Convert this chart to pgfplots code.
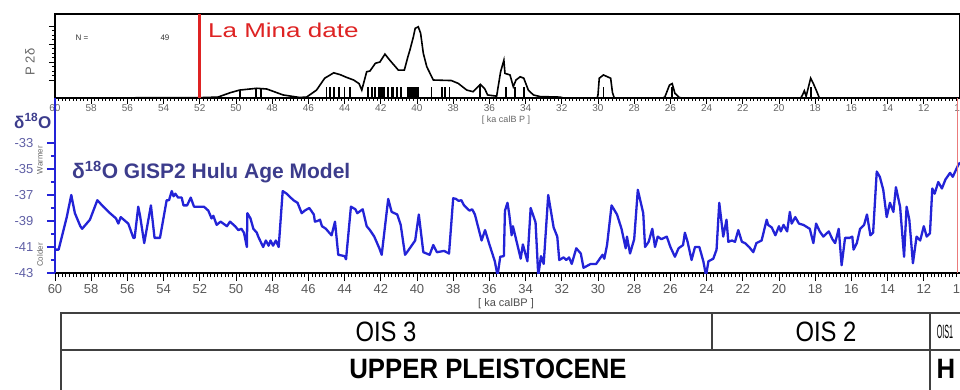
\documentclass[border=0pt]{standalone}
\usepackage{pgfplots}
\pgfplotsset{compat=1.18}
\usepackage{fontspec}
\setmainfont{Liberation Sans}
\usepackage{graphicx}
\definecolor{dblue}{RGB}{35,35,215}
\definecolor{lblue}{RGB}{95,95,165}
\definecolor{tblue}{RGB}{60,60,140}
\definecolor{lared}{RGB}{222,35,35}
\newcommand{\fs}[1]{\fontsize{#1}{#1}\selectfont}
\begin{document}
\begin{tikzpicture}[x=1pt,y=1pt]
\clip (0,0) rectangle (960,389);
% ---------------- top panel: summed probability ----------------
\begin{axis}[
  at={(55pt,291pt)}, anchor=south west,
  scale only axis, width=905pt, height=84pt,
  xmin=10, xmax=60, x dir=reverse,
  ymin=0, ymax=4.67,
  axis line style={line width=1.8pt},
  xtick={60,58,...,10}, minor x tick num=9,
  xtick pos=bottom, ytick pos=left,
  tick align=outside,
  ytick={1,2,3,4}, yticklabels={},
  minor y tick num=3,
  major tick length=6pt, minor tick length=3pt,
  every tick/.style={black, line width=0.9pt},
  x tick label style={font=\fs{10}, text=black!60, yshift=3pt},
  /pgf/number format/assume math mode=true,
  clip=false,
]
\addplot[black, line width=1.6pt, no marks] coordinates {
(60,0) (52,0.02) (51,0.05) (50.3,0.3) (49.8,0.44) (48.85,0.54) (48.3,0.5)
(47.4,0.17) (46.5,0.03) (46.1,0.05) (45.55,0.44) (45.1,1.1) (44.6,1.4)
(44.25,1.3) (43.9,1.15) (43.5,1.0) (43.2,0.8) (43.05,0.44) (42.78,1.46)
(42.6,1.5) (42.3,1.93) (42.05,2.0) (41.77,2.44) (41.5,2.1) (41.03,1.55)
(40.7,1.55) (40.5,2.3) (40.39,2.67) (40.2,3.4) (40.1,3.87) (39.93,3.96)
(39.8,3.6) (39.65,2.48) (39.46,1.74) (39.1,1.0) (38.1,0.97) (37.72,0.81)
(37.25,0.44) (36.9,0.35) (36.5,0.76) (36.25,0.5) (36.1,0.17) (35.6,0.1)
(35.38,1.46) (35.2,2.1) (35.14,1.37) (34.86,1.28) (34.68,0.63) (34.53,1.0)
(34.3,1.18) (34.1,1.1) (33.85,0.44) (33.57,0.17) (33.2,0.08) (32.1,0.05)
(31.9,0) (30.05,0) (30.0,0.17) (29.93,1.1) (29.7,1.28) (29.3,1.1)
(29.2,0.3) (29.1,0) (26.4,0) (26.3,0.07) (26.05,0.72) (25.9,0.8)
(25.75,0.26) (25.5,0.02) (25.3,0) (18.8,0) (18.7,0.17) (18.6,0.4)
(18.5,0.1) (18.25,1.1) (18.1,0.8) (17.9,0.33) (17.77,0) (10,0)
};
\addplot[black, ycomb, line width=1.8pt, no marks] coordinates {
(49.8,0.44) (48.9,0.5) (48.6,0.5) (45.0,0.6) (44.8,0.6) (44.6,0.6)
(44.3,0.6) (44.0,0.6) (43.7,0.6) (42.7,0.6) (42.5,0.6) (42.3,0.6)
(42.1,0.6) (42.0,0.6) (41.9,0.6) (41.8,0.6) (41.6,0.6) (41.4,0.6)
(41.3,0.6) (41.1,0.6) (40.9,0.6) (40.5,0.6) (40.4,0.6) (40.3,0.6)
(40.2,0.6) (40.1,0.6) (40.0,0.6) (39.95,0.6) (39.2,0.6) (38.6,0.6)
(38.45,0.6) (38.2,0.6) (36.5,0.76) (35.1,0.6) (34.6,0.6) (34.1,0.6)
(29.7,0.6) (25.9,0.6) (18.25,0.6)
};
\addplot[lared, line width=2.8pt, no marks] coordinates {(52,0) (52,4.67)};
\end{axis}
% ---------------- bottom panel: delta 18O ----------------
\begin{axis}[
  at={(55pt,116pt)}, anchor=south west,
  scale only axis, width=905pt, height=175pt,
  xmin=10, xmax=60, x dir=reverse,
  ymin=-43, ymax=-29.54,
  axis x line*=bottom, axis y line*=left,
  x axis line style={black, line width=1.8pt},
  y axis line style={dblue, line width=2.6pt},
  xtick={60,58,...,10}, minor x tick num=9,
  ytick={-43,-41,...,-33}, minor y tick num=1,
  tick align=outside,
  major tick length=8pt, minor tick length=4pt,
  every x tick/.style={black, line width=0.9pt},
  every y tick/.style={dblue, line width=1.5pt},
  x tick label style={font=\fs{13}, text=black!65},
  y tick label style={font=\fs{13}, text=lblue, xshift=-10pt},
  /pgf/number format/assume math mode=true,
]
\addplot[dblue, line width=2.3pt, no marks, line join=round] coordinates {
(59.95,-41.2) (59.8,-41.2) (59.35,-38.7) (59.1,-37.0) (58.9,-38.4) (58.6,-39.4)
(58.5,-39.6) (58.07,-38.9) (57.66,-37.4) (57.33,-37.9) (56.96,-38.4) (56.63,-38.8)
(56.5,-39.2) (56.37,-38.7) (55.95,-39.2) (55.67,-40.3) (55.6,-40.3) (55.4,-37.9)
(55.3,-38.6) (55.07,-40.7) (54.7,-37.8) (54.5,-40.3) (54.2,-40.3) (53.83,-37.4)
(53.7,-37.4) (53.55,-36.7) (53.45,-37.1) (53.35,-36.9) (53.2,-37.2) (53.0,-37.2)
(52.9,-37.8) (52.7,-37.8) (52.5,-37.2) (52.32,-37.9) (51.77,-37.9) (51.53,-38.2)
(51.35,-38.8) (51.25,-38.6) (51.07,-39.3) (50.85,-39.05) (50.5,-39.4) (50.33,-39.05)
(50.05,-39.4) (49.87,-39.7) (49.7,-39.6) (49.56,-39.9) (49.4,-41.0) (49.37,-38.4)
(49.2,-38.8) (49.04,-39.6) (48.85,-39.9) (48.77,-40.2) (48.5,-41.0) (48.35,-40.5)
(48.2,-40.9) (48.09,-40.5) (47.95,-40.9) (47.8,-40.5) (47.64,-41.0) (47.42,-36.7)
(47.2,-36.9) (46.83,-37.4) (46.6,-37.6) (46.37,-38.4) (46.2,-38.2) (45.95,-38.0)
(45.7,-38.5) (45.64,-39.05) (45.5,-39.0) (45.36,-38.9) (45.25,-39.4) (45.03,-39.6)
(44.85,-39.9) (44.72,-40.1) (44.53,-39.05) (44.35,-41.6) (44.0,-41.7) (43.92,-41.95)
(43.65,-37.9) (43.4,-38.1) (43.3,-38.4) (43.0,-38.1) (42.78,-39.4) (42.6,-39.7)
(42.36,-40.2) (42.08,-41.1) (41.95,-41.6) (41.59,-37.3) (41.4,-38.3) (41.09,-38.5)
(40.9,-39.3) (40.66,-41.6) (40.5,-41.3) (40.1,-40.5) (39.9,-38.5) (39.65,-41.4)
(39.3,-41.6) (39.1,-40.85) (38.9,-41.4) (38.5,-41.3) (38.23,-41.5) (38.0,-37.25)
(37.85,-37.3) (37.7,-37.45) (37.55,-37.4) (37.4,-37.8) (37.25,-38.0) (37.1,-38.2)
(36.95,-38.1) (36.8,-38.5) (36.43,-40.5) (36.24,-39.7) (36.0,-40.8) (35.7,-42.1)
(35.55,-43.2) (35.4,-41.75) (35.2,-41.7) (35.14,-38.2) (35.0,-37.6) (34.9,-38.5)
(34.77,-40.1) (34.7,-39.4) (34.45,-40.85) (34.27,-41.9) (34.15,-40.8) (33.9,-42.1)
(33.72,-38.0) (33.45,-39.1) (33.3,-43.2) (33.15,-41.7) (33.0,-42.3) (32.75,-37.0)
(32.45,-39.5) (32.25,-40.2) (32.14,-42.0) (31.9,-41.8) (31.75,-42.0) (31.6,-41.8)
(31.45,-42.3) (31.2,-41.1) (30.95,-41.5) (30.8,-42.6) (30.4,-42.3) (30.1,-42.3)
(29.75,-41.6) (29.65,-41.9) (29.5,-40.85) (29.25,-37.8) (28.95,-38.5) (28.7,-39.6)
(28.47,-41.1) (28.4,-40.2) (28.23,-41.5) (28.0,-40.4) (27.8,-36.6) (27.5,-38.4)
(27.4,-41.0) (27.2,-40.6) (27.0,-39.6) (26.85,-41.0) (26.7,-40.2) (26.5,-40.4)
(26.2,-40.2) (26.0,-41.0) (25.75,-41.75) (25.55,-41.1) (25.3,-40.85) (25.2,-39.9)
(25.05,-40.6) (24.83,-42.0) (24.64,-41.0) (24.4,-41.0) (24.18,-42.1) (24.03,-43.2)
(23.9,-42.1) (23.63,-41.9) (23.45,-41.2) (23.3,-37.6) (23.08,-40.2) (22.9,-38.9)
(22.8,-40.6) (22.6,-40.5) (22.43,-40.6) (22.25,-39.7) (22.05,-40.6) (21.88,-40.7)
(21.65,-41.0) (21.42,-41.4) (21.25,-40.7) (20.96,-40.5) (20.68,-38.9) (20.6,-39.3)
(20.4,-39.5) (20.2,-40.1) (20.0,-39.4) (19.9,-39.8) (19.75,-39.3) (19.55,-39.8)
(19.4,-38.3) (19.3,-39.2) (19.1,-38.7) (18.9,-39.2) (18.65,-39.3) (18.3,-39.6)
(18.1,-40.7) (17.95,-39.2) (17.75,-39.8) (17.55,-40.2) (17.25,-39.8) (17.05,-40.4)
(16.9,-40.7) (16.7,-39.6) (16.54,-42.4) (16.35,-40.3) (16.1,-40.3) (15.95,-40.2)
(15.88,-41.2) (15.7,-40.7) (15.52,-39.6) (15.3,-39.3) (15.14,-38.5) (14.95,-40.1)
(14.8,-39.9) (14.6,-35.2) (14.43,-35.6) (14.24,-36.6) (14.05,-38.7) (13.87,-37.6)
(13.68,-38.3) (13.54,-36.4) (13.31,-37.9) (13.09,-41.75) (12.95,-37.9) (12.8,-38.9)
(12.6,-42.25) (12.4,-40.2) (12.2,-40.5) (12.0,-39.4) (11.84,-40.2) (11.66,-39.95)
(11.53,-36.5) (11.4,-36.9) (11.2,-36.0) (11.0,-36.5) (10.8,-35.8) (10.55,-35.3)
(10.4,-35.6) (10.1,-34.7) (10.0,-34.5)
};
\draw[lared!60, line width=1pt] (rel axis cs:0.997,0) -- (rel axis cs:0.997,1);
\end{axis}
% ---------------- annotations ----------------
\node[rotate=90, text=black!60, font=\fs{13}] at (30,327) {P 2δ};
\node[anchor=west, font=\fs{8}, text=black!80] at (72,351) {N =};
\node[anchor=west, font=\fs{8}, text=black!80] at (157,351) {49};
\node[anchor=west, text=lared, font=\fs{20}, inner sep=0pt] at (208,359) {\scalebox{1.3}[1]{La Mina date}};
\node[text=black!60, font=\fs{9}, inner sep=1pt] at (506,269) {[ ka calB P ]};
\node[text=black!70, font=\fs{11}, inner sep=1pt] at (506,85) {[ ka calBP ]};
\node[anchor=west, text=tblue, font=\bfseries\fs{17}, inner sep=0pt] at (14,268) {δ\textsuperscript{18}O};
\node[anchor=west, text=tblue, font=\bfseries\fs{21}, inner sep=0pt] at (72,217) {δ\textsuperscript{18}O GISP2 Hulu Age Model};
\node[rotate=90, text=black!60, font=\fs{8}] at (40,229) {Warmer};
\node[rotate=90, text=black!60, font=\fs{8}] at (40,134) {Colder};
% ---------------- stage table ----------------
\draw[black!75, line width=1.3pt] (61,-5) -- (61,76) -- (965,76);
\draw[black!75, line width=1.3pt] (61,39) -- (965,39);
\draw[black!75, line width=1.1pt] (712,39) -- (712,76);
\draw[black!75, line width=1.1pt] (930,-5) -- (930,76);
\node[font=\fs{28}] at (386,57) {\scalebox{0.85}[1]{OIS 3}};
\node[font=\fs{28}] at (826,57) {\scalebox{0.85}[1]{OIS 2}};
\node[font=\fs{16}] at (945,57) {\scalebox{0.45}[1.2]{OIS1}};
\node[font=\bfseries\fs{28}] at (488,20) {\scalebox{0.92}[1]{UPPER PLEISTOCENE}};
\node[font=\bfseries\fs{28}] at (946,20) {\scalebox{0.92}[1]{H}};
\end{tikzpicture}
\end{document}
